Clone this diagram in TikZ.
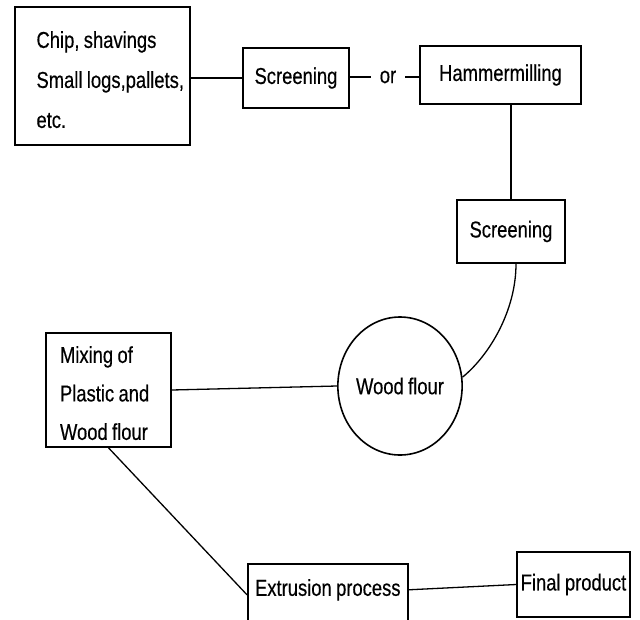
\documentclass[tikz,border=0pt]{standalone}
\usepackage{fontspec}
\setmainfont[FakeStretch=0.8, FakeBold=0.4, WordSpace=0.85]{Liberation Sans}
\usetikzlibrary{shapes.geometric}
\newcommand{\txtline}[3]{\hbox to #1{\kern#2\relax #3\hfil}}
\begin{document}
\begin{tikzpicture}[x=1pt,y=-1pt,
  every node/.style={font=\fontsize{23}{40}\selectfont, text=black},
  box/.style={draw, rectangle, line width=1.6pt, inner sep=0pt},
  conn/.style={line width=1.3pt}]
\useasboundingbox (0,0) rectangle (640,619);
\clip (0,0) rectangle (640,619);

\node[box, minimum width=175pt, minimum height=138pt] (src) at (102.5,76)
  {\vbox{\baselineskip=40pt
    \txtline{165pt}{16.5pt}{\rule{0pt}{24pt}Chip, shavings}
    \txtline{165pt}{16.5pt}{Small logs,pallets,}
    \txtline{165pt}{16.5pt}{etc.}}};
\node[box, minimum width=106pt, minimum height=60pt] (scr1) at (296,78) {Screening};
\node[inner sep=0pt, inner xsep=9pt] (or) at (388,77) {or};
\node[box, minimum width=161pt, minimum height=58pt] (ham) at (500.5,75) {Hammermilling};
\node[box, minimum width=108pt, minimum height=63pt] (scr2) at (511,231.5) {Screening};
\node[draw, ellipse, line width=1.6pt, inner sep=0pt, minimum width=109pt, minimum height=138pt] (wf) at (400,386) {Wood flour};
\node[box, minimum width=125pt, minimum height=114pt] (mix) at (108.5,390)
  {\vbox{\baselineskip=38.5pt
    \txtline{111pt}{7pt}{\rule{0pt}{23pt}Mixing of}
    \txtline{111pt}{7pt}{Plastic and}
    \txtline{111pt}{7pt}{Wood flour}}};
\node[box, minimum width=160pt, text height=32pt, text depth=30pt, anchor=north west] (ext) at (247,563) {Extrusion process};
\node[box, minimum width=113pt, minimum height=65pt] (fin) at (573.5,584.5) {Final product};

\draw[conn] (src.east |- scr1.west) -- (scr1.west);
\draw[conn] (scr1.east |- or.west) -- (or.west);
\draw[conn] (or.east) -- (or.east -| ham.west);
\draw[conn] (scr2.north) -- (scr2.north |- ham.south);
\draw[conn] ([xshift=5pt]scr2.south) .. controls +(0,47) and +(27,-22) .. (wf.8);
\draw[conn] (mix.east) -- (wf.west);
\draw[conn] (mix.south) -- (ext.west);
\draw[conn] ([yshift=5pt]ext.east) -- (fin.west);
\end{tikzpicture}
\end{document}
